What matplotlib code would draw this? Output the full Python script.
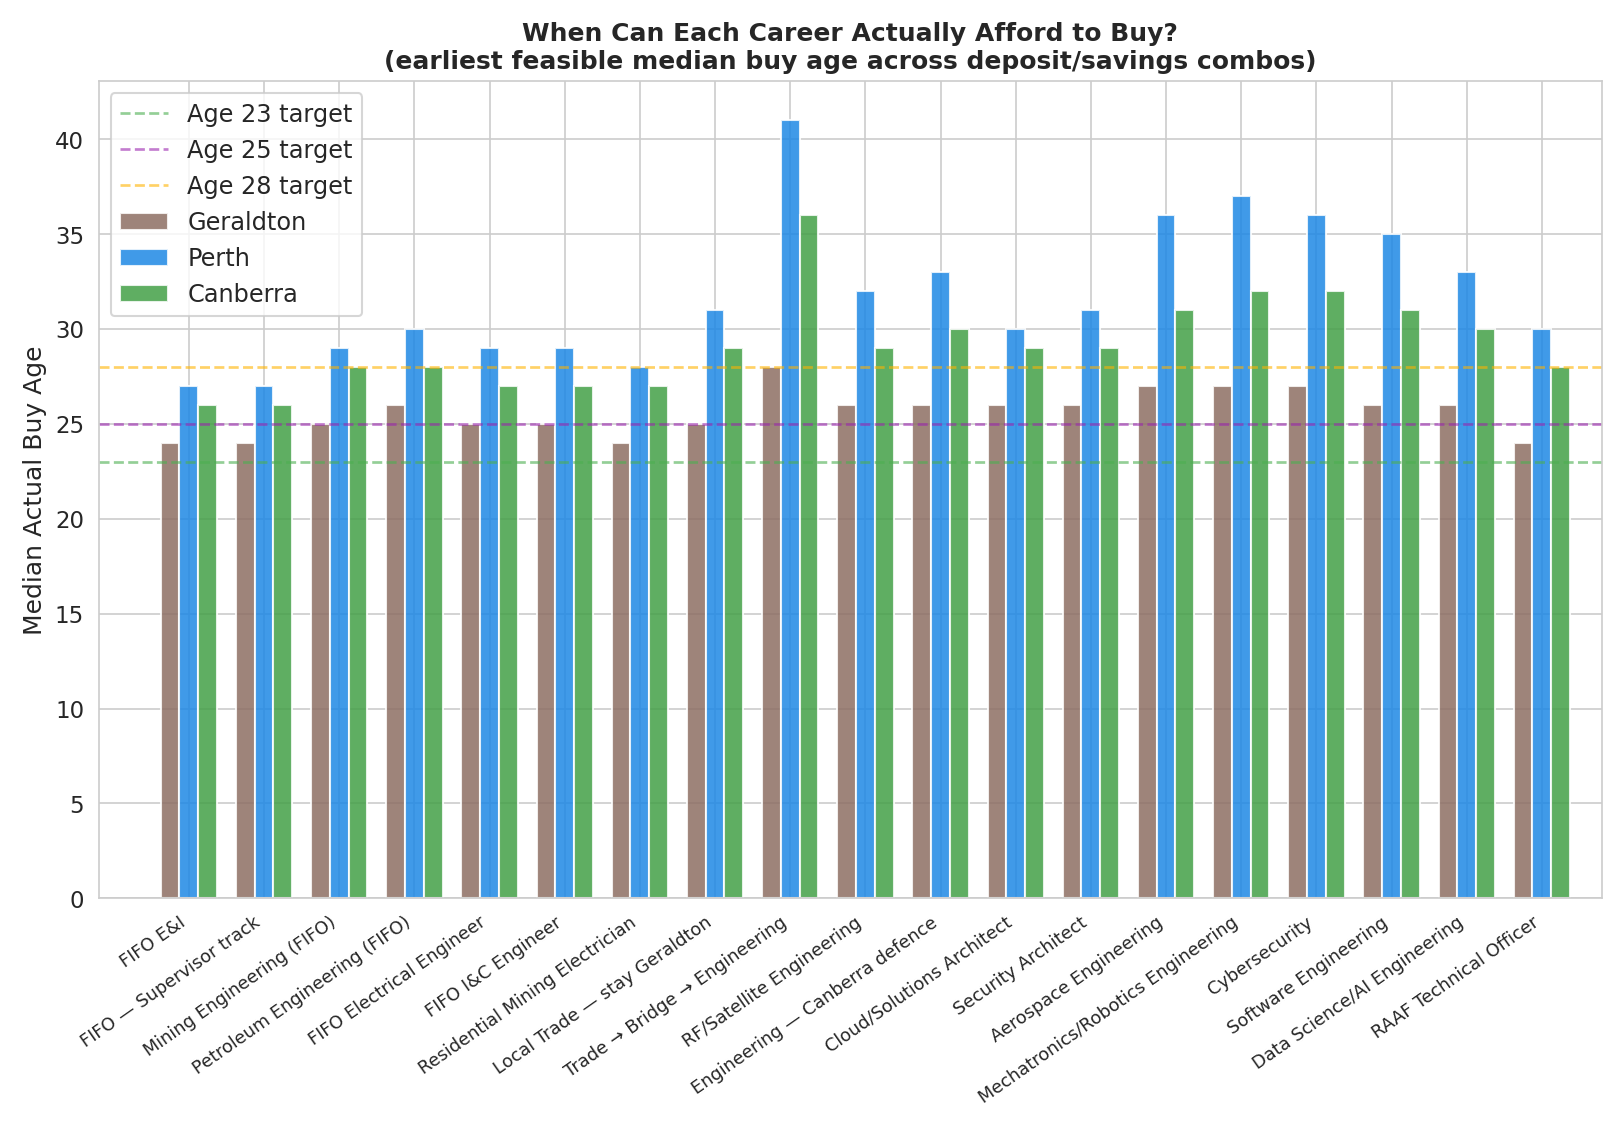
import numpy as np
import matplotlib.pyplot as plt
import seaborn as sns

careers = ["FIFO E&I", "FIFO — Supervisor track", "Mining Engineering (FIFO)",
           "Petroleum Engineering (FIFO)", "FIFO Electrical Engineer", "FIFO I&C Engineer",
           "Residential Mining Electrician", "Local Trade — stay Geraldton",
           "Trade → Bridge → Engineering", "RF/Satellite Engineering",
           "Engineering — Canberra defence", "Cloud/Solutions Architect",
           "Security Architect", "Aerospace Engineering", "Mechatronics/Robotics Engineering",
           "Cybersecurity", "Software Engineering", "Data Science/AI Engineering",
           "RAAF Technical Officer"]
geraldton = [24, 24, 25, 26, 25, 25, 24, 25, 28, 26, 26, 26, 26, 27, 27, 27, 26, 26, 24]
perth = [27, 27, 29, 30, 29, 29, 28, 31, 41, 32, 33, 30, 31, 36, 37, 36, 35, 33, 30]
canberra = [26, 26, 28, 28, 27, 27, 27, 29, 36, 29, 30, 29, 29, 31, 32, 32, 31, 30, 28]
targets = [(23, "#4caf50"), (25, "#9c27b0"), (28, "#ffb300")]

sns.set_style("whitegrid")
fig, ax = plt.subplots(figsize=(10.83, 7.53), dpi=150)
x = np.arange(len(careers))
w = 0.25

for age, c in targets:
    ax.axhline(age, color=c, ls="--", alpha=0.6, lw=1.3, label=f"Age {age} target")

ax.bar(x - w, geraldton, w, color="#8d6e63", alpha=0.85, label="Geraldton")
ax.bar(x, perth, w, color="#1e88e5", alpha=0.85, label="Perth")
ax.bar(x + w, canberra, w, color="#43a047", alpha=0.85, label="Canberra")

ax.set_xticks(x)
ax.set_xticklabels(careers, rotation=35, ha="right", fontsize=8.5)
ax.tick_params(axis="y", labelsize=11)
ax.set_xlim(-1.2, len(careers) - 0.2)
ax.set_ylabel("Median Actual Buy Age", fontsize=12)
ax.set_title("When Can Each Career Actually Afford to Buy?\n"
             "(earliest feasible median buy age across deposit/savings combos)",
             fontsize=12, fontweight="bold")
ax.legend(loc="upper left", fontsize=11.5)

plt.tight_layout()
plt.savefig("out.png", dpi=150)
